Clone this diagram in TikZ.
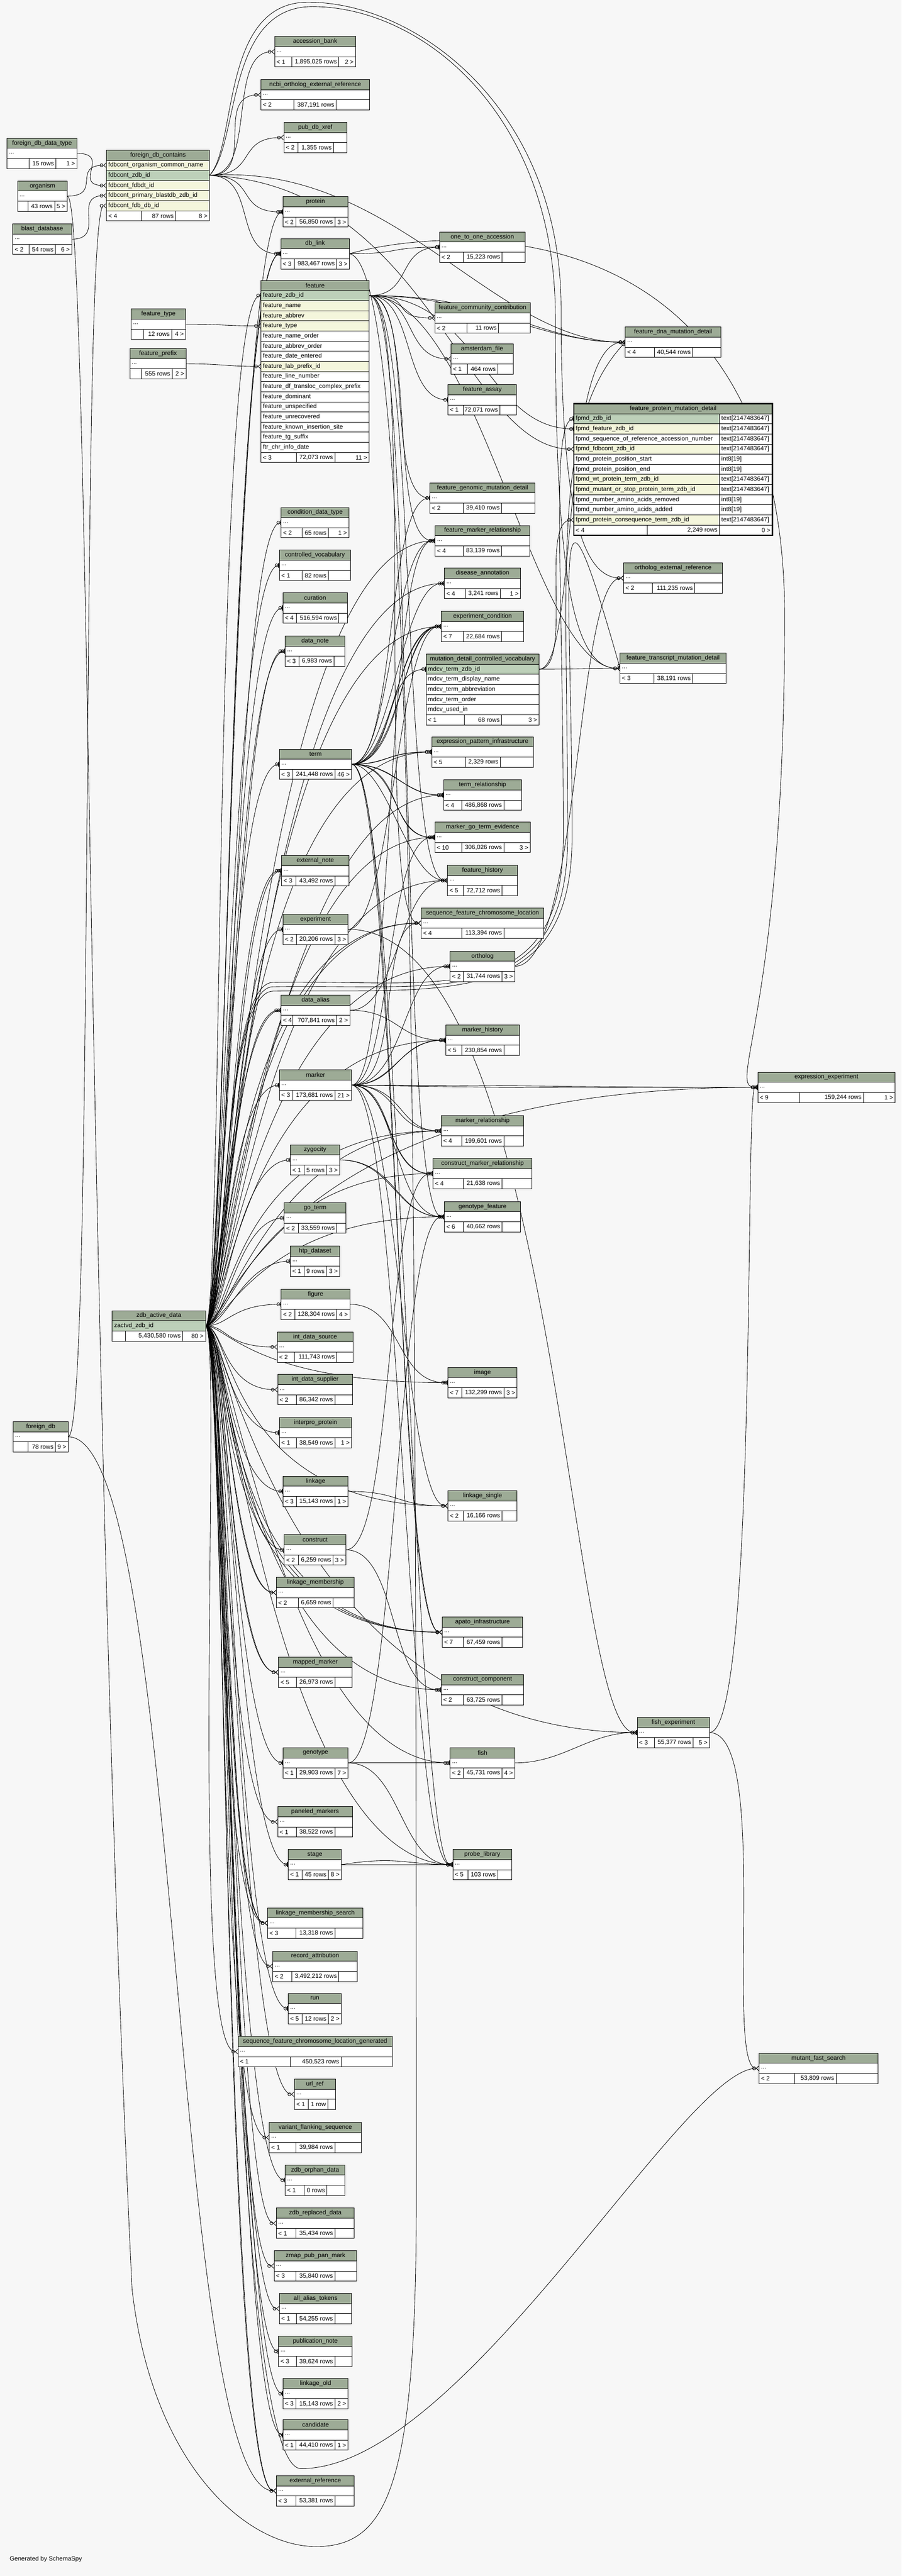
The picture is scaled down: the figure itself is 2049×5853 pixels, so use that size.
\documentclass[tikz,border=0pt]{standalone}
\usepackage{fontspec}
\setmainfont{Liberation Sans}
\usetikzlibrary{arrows.meta}

\definecolor{bgc}{RGB}{247,247,247}
\definecolor{hdrc}{RGB}{157,171,150}
\definecolor{pkc}{RGB}{189,208,185}
\definecolor{fkc}{RGB}{244,246,220}

\newcommand{\tfont}{\fontsize{7pt}{8pt}\selectfont}

\pgfdeclarelayer{bg}
\pgfsetlayers{bg,main}

\tikzset{
  cell/.style={draw=black,line width=0.5pt},
  hdr/.style={cell,fill=hdrc,anchor=north west,minimum height=11.5pt,inner sep=0pt,outer sep=0pt},
  rowc/.style={cell,anchor=north west,minimum height=11.5pt,inner sep=0pt,outer sep=0pt},
  txt/.style={anchor=west,inner sep=2pt},
  txtr/.style={anchor=east,inner sep=2pt},
  fk/.style={draw=black,line width=0.5pt},
  fkmany/.style={fk,-{Circle[open,length=4pt,width=4pt]Straight Barb[reversed,length=3pt,width=5.5pt]}},
  fkone/.style={fk,-{Circle[open,length=4pt,width=4pt]Bar[width=5.5pt,line width=1.2pt]}}
}

% footer row: x,y / width / split1 / split2 / left / middle / right
\newcommand{\tfoot}[7]{%
  \begin{scope}[shift={(#1)}]
    \draw[cell,fill=white] (0,0) rectangle (#2,23);
    \draw[cell] (#3,0) -- (#3,23) (#4,0) -- (#4,23);
    \node[txt] at (0,11.5) {#5};
    \node[txtr] at (#4,11.5) {#6};
    \node[txtr] at (#2,11.5) {#7};
  \end{scope}}

% collapsed table: id / x,y / width / title / left / middle / right / split1 / split2
\newcommand{\tbl}[9]{%
  \begin{scope}[shift={(#2)}]
    \node[hdr,minimum width=#3*0.5pt] (#1-h) at (0,0) {#4};
    \node[rowc,fill=white,minimum width=#3*0.5pt] (#1) at (0,23) {};
    \node[txt] at (#1.west) {...};
    \tfoot{0,46}{#3}{#8}{#9}{#5}{#6}{#7}
  \end{scope}}

\begin{document}
\begin{tikzpicture}[x=0.5pt,y=-0.5pt,font=\tfont]
\useasboundingbox (0,0) rectangle (2049,5853);

% left side
\tbl{fddt}{16,314}{159}{foreign\_db\_data\_type}{}{15 rows}{1 >}{50}{111}
\tbl{org}{40,411}{113}{organism}{}{43 rows}{5 >}{24}{84}
\tbl{blastdb}{29,509}{134}{blast\_database}{< 2}{54 rows}{6 >}{37}{97}
\tbl{ftype}{298,702}{124}{feature\_type}{}{12 rows}{4 >}{28}{92}
\tbl{fprefix}{295,792}{128}{feature\_prefix}{}{555 rows}{2 >}{26}{96}
\tbl{fdb}{30,3230}{125}{foreign\_db}{}{78 rows}{9 >}{34}{96}

\begin{scope}[shift={(242,341)}]
  \node[hdr,minimum width=117pt] (fdbc-h) at (0,0) {foreign\_db\_contains};
  \foreach \rt/\rc [count=\i] in {fdbcont\_organism\_common\_name/fkc, fdbcont\_zdb\_id/pkc,
      fdbcont\_fdbdt\_id/fkc, fdbcont\_primary\_blastdb\_zdb\_id/fkc, fdbcont\_fdb\_db\_id/fkc}{
    \node[rowc,fill=\rc,minimum width=117pt] (fdbc-\i) at (0,23*\i) {};
    \node[txt] at (fdbc-\i.west) {\rt};
  }
  \tfoot{0,138}{234}{79}{157}{< 4}{87 rows}{8 >}
\end{scope}

\begin{scope}[shift={(255,2978)}]
  \node[hdr,minimum width=106pt] (zad-h) at (0,0) {zdb\_active\_data};
  \node[rowc,fill=pkc,minimum width=106pt] (zad) at (0,23) {};
  \node[txt] at (zad.west) {zactvd\_zdb\_id};
  \tfoot{0,46}{212}{30}{160}{}{5,430,580 rows}{80 >}
\end{scope}

% middle column
\tbl{accbank}{624,83}{184}{accession\_bank}{< 1}{1,895,025 rows}{2 >}{39}{146}
\tbl{ncbioer}{593,181}{247}{ncbi\_ortholog\_external\_reference}{< 2}{387,191 rows}{}{75}{171}
\tbl{pubxref}{645,278}{143}{pub\_db\_xref}{< 2}{1,355 rows}{}{32}{113}
\tbl{protein}{643,447}{148}{protein}{< 2}{56,850 rows}{3 >}{30}{118}
\tbl{dblink}{638,542}{156}{db\_link}{< 3}{983,467 rows}{3 >}{31}{127}

\begin{scope}[shift={(593,637)}]
  \node[hdr,minimum width=123pt] (feature-h) at (0,0) {feature};
  \foreach \rt/\rc [count=\i] in {feature\_zdb\_id/pkc, feature\_name/fkc, feature\_abbrev/fkc,
      feature\_type/fkc, feature\_name\_order/white, feature\_abbrev\_order/white,
      feature\_date\_entered/white, feature\_lab\_prefix\_id/fkc, feature\_line\_number/white,
      feature\_df\_transloc\_complex\_prefix/white, feature\_dominant/white,
      feature\_unspecified/white, feature\_unrecovered/white, feature\_known\_insertion\_site/white,
      feature\_tg\_suffix/white, ftr\_chr\_info\_date/white}{
    \node[rowc,fill=\rc,minimum width=123pt] (feature-\i) at (0,23*\i) {};
    \node[txt] at (feature-\i.west) {\rt};
  }
  \tfoot{0,391}{246}{81}{168}{< 3}{72,073 rows}{11 >}
\end{scope}

\tbl{cdt}{639,1153}{154}{condition\_data\_type}{< 2}{65 rows}{1 >}{47}{107}
\tbl{cvocab}{635,1250}{161}{controlled\_vocabulary}{< 1}{82 rows}{}{51}{111}
\tbl{curation}{643,1347}{146}{curation}{< 4}{516,594 rows}{}{31}{127}
\tbl{datanote}{648,1445}{136}{data\_note}{< 3}{6,983 rows}{}{31}{111}
\tbl{term}{635,1702}{164}{term}{< 3}{241,448 rows}{46 >}{30}{126}
\tbl{extnote}{640,1944}{153}{external\_note}{< 3}{43,492 rows}{}{33}{121}
\tbl{experiment}{643,2077}{148}{experiment}{< 2}{20,206 rows}{3 >}{31}{118}
\tbl{dalias}{639,2261}{156}{data\_alias}{< 4}{707,841 rows}{2 >}{26}{126}
\tbl{marker}{635,2431}{164}{marker}{< 3}{173,681 rows}{21 >}{30}{126}
\tbl{zygocity}{660,2601}{112}{zygocity}{< 1}{5 rows}{3 >}{31}{82}
\tbl{goterm}{646,2733}{140}{go\_term}{< 2}{33,559 rows}{}{32}{119}
\tbl{htpds}{660,2831}{112}{htp\_dataset}{< 1}{9 rows}{3 >}{31}{82}
\tbl{figure}{639,2929}{156}{figure}{< 2}{128,304 rows}{4 >}{31}{126}
\tbl{ids}{630,3026}{172}{int\_data\_source}{< 2}{111,743 rows}{}{39}{135}
\tbl{idsup}{631,3123}{170}{int\_data\_supplier}{< 2}{86,342 rows}{}{43}{130}
\tbl{ipprot}{635,3221}{164}{interpro\_protein}{< 1}{38,549 rows}{1 >}{39}{126}
\tbl{linkage}{643,3354}{148}{linkage}{< 3}{15,143 rows}{1 >}{31}{118}
\tbl{construct}{646,3487}{140}{construct}{< 2}{6,259 rows}{3 >}{32}{111}
\tbl{lmem}{628,3584}{177}{linkage\_membership}{< 2}{6,659 rows}{}{50}{129}
\tbl{mmarker}{633,3765}{167}{mapped\_marker}{< 5}{26,973 rows}{}{41}{128}
\tbl{genotype}{643,3971}{148}{genotype}{< 1}{29,903 rows}{7 >}{31}{118}
\tbl{pmarkers}{631,4105}{170}{paneled\_markers}{< 1}{38,522 rows}{}{43}{130}
\tbl{stage}{655,4202}{121}{stage}{< 1}{45 rows}{8 >}{31}{91}
\tbl{lms}{608,4335}{217}{linkage\_membership\_search}{< 3}{13,318 rows}{}{65}{153}
\tbl{recattr}{620,4433}{192}{record\_attribution}{< 2}{3,492,212 rows}{}{43}{150}
\tbl{run}{655,4529}{121}{run}{< 5}{12 rows}{2 >}{31}{91}
\tbl{sfclgen}{541,4627}{350}{sequence\_feature\_chromosome\_location\_generated}{< 1}{450,523 rows}{}{118}{234}
\tbl{urlref}{669,4724}{93}{url\_ref}{< 1}{1 row}{}{31}{76}
\tbl{vfs}{612,4822}{209}{variant\_flanking\_sequence}{< 1}{39,984 rows}{}{61}{149}
\tbl{orphan}{648,4919}{136}{zdb\_orphan\_data}{< 1}{0 rows}{}{43}{95}
\tbl{replaced}{628,5017}{177}{zdb\_replaced\_data}{< 1}{35,434 rows}{}{45}{133}
\tbl{zmap}{623,5114}{188}{zmap\_pub\_pan\_mark}{< 3}{35,840 rows}{}{50}{138}
\tbl{aliastok}{635,5211}{164}{all\_alias\_tokens}{< 1}{54,255 rows}{}{39}{126}
\tbl{pubnote}{633,5308}{167}{publication\_note}{< 3}{39,624 rows}{}{41}{128}
\tbl{linkold}{643,5404}{148}{linkage\_old}{< 3}{15,143 rows}{2 >}{30}{118}
\tbl{candidate}{643,5498}{148}{candidate}{< 1}{44,410 rows}{1 >}{30}{118}
\tbl{extref}{628,5625}{177}{external\_reference}{< 3}{53,381 rows}{}{45}{133}

% second column
\tbl{o2o}{999,527}{194}{one\_to\_one\_accession}{< 2}{15,223 rows}{}{54}{142}
\tbl{fcc}{988,688}{217}{feature\_community\_contribution}{< 2}{11 rows}{}{73}{145}
\tbl{amsfile}{1025,781}{141}{amsterdam\_file}{< 1}{464 rows}{}{37}{106}
\tbl{fassay}{1018,874}{156}{feature\_assay}{< 1}{72,071 rows}{}{35}{118}
\tbl{fgmd}{977,1097}{239}{feature\_genomic\_mutation\_detail}{< 2}{39,410 rows}{}{76}{163}
\tbl{fmr}{989,1194}{215}{feature\_marker\_relationship}{< 4}{83,139 rows}{}{64}{151}
\tbl{disann}{1010,1291}{173}{disease\_annotation}{< 4}{3,241 rows}{1 >}{47}{127}
\tbl{expcond}{1003,1389}{187}{experiment\_condition}{< 7}{22,684 rows}{}{50}{137}

\begin{scope}[shift={(968,1486)}]
  \node[hdr,minimum width=128.5pt] (mdcv-h) at (0,0) {mutation\_detail\_controlled\_vocabulary};
  \foreach \rt/\rc [count=\i] in {mdcv\_term\_zdb\_id/pkc, mdcv\_term\_display\_name/white,
      mdcv\_term\_abbreviation/white, mdcv\_term\_order/white, mdcv\_used\_in/white}{
    \node[rowc,fill=\rc,minimum width=128.5pt] (mdcv-\i) at (0,23*\i) {};
    \node[txt] at (mdcv-\i.west) {\rt};
  }
  \tfoot{0,138}{257}{87}{172}{< 1}{68 rows}{3 >}
\end{scope}

\tbl{epi}{981,1674}{231}{expression\_pattern\_infrastructure}{< 5}{2,329 rows}{}{76}{156}
\tbl{termrel}{1008,1772}{177}{term\_relationship}{< 4}{486,868 rows}{}{41}{137}
\tbl{mgte}{988,1868}{217}{marker\_go\_term\_evidence}{< 10}{306,026 rows}{3 >}{61}{157}
\tbl{fhist}{1017,1966}{159}{feature\_history}{< 5}{72,712 rows}{}{36}{124}
\tbl{sfcl}{957,2063}{279}{sequence\_feature\_chromosome\_location}{< 4}{113,394 rows}{}{92}{188}
\tbl{ortholog}{1023,2161}{147}{ortholog}{< 2}{31,744 rows}{3 >}{30}{118}
\tbl{mhist}{1013,2329}{167}{marker\_history}{< 5}{230,854 rows}{}{36}{132}
\tbl{mrel}{1003,2535}{187}{marker\_relationship}{< 4}{199,601 rows}{}{46}{142}
\tbl{cmr}{984,2632}{225}{construct\_marker\_relationship}{< 4}{21,638 rows}{}{69}{157}
\tbl{genofeat}{1010,2730}{173}{genotype\_feature}{< 6}{40,662 rows}{}{43}{131}
\tbl{image}{1018,3107}{157}{image}{< 7}{132,299 rows}{3 >}{31}{127}
\tbl{lsingle}{1018,3387}{157}{linkage\_single}{< 2}{16,166 rows}{}{35}{123}
\tbl{apato}{1005,3674}{183}{apato\_infrastructure}{< 7}{67,459 rows}{}{48}{136}
\tbl{ccomp}{1003,3805}{187}{construct\_component}{< 2}{63,725 rows}{}{50}{138}
\tbl{fish}{1023,3971}{147}{fish}{< 2}{45,731 rows}{4 >}{30}{118}
\tbl{probelib}{1029,4202}{134}{probe\_library}{< 5}{103 rows}{}{34}{102}

% right side
\tbl{fdmd}{1421,743}{217}{feature\_dna\_mutation\_detail}{< 4}{40,544 rows}{}{66}{153}

\begin{scope}[shift={(1304,917)}]
  \node[hdr,minimum width=225.5pt] (fpmd-h) at (0,0) {feature\_protein\_mutation\_detail};
  \foreach \rt/\rc/\ty [count=\i] in {fpmd\_zdb\_id/pkc/text[2147483647],
      fpmd\_feature\_zdb\_id/fkc/text[2147483647],
      fpmd\_sequence\_of\_reference\_accession\_number/white/text[2147483647],
      fpmd\_fdbcont\_zdb\_id/fkc/text[2147483647],
      fpmd\_protein\_position\_start/white/int8[19],
      fpmd\_protein\_position\_end/white/int8[19],
      fpmd\_wt\_protein\_term\_zdb\_id/fkc/text[2147483647],
      fpmd\_mutant\_or\_stop\_protein\_term\_zdb\_id/fkc/text[2147483647],
      fpmd\_number\_amino\_acids\_removed/white/int8[19],
      fpmd\_number\_amino\_acids\_added/white/int8[19],
      fpmd\_protein\_consequence\_term\_zdb\_id/fkc/text[2147483647]}{
    \node[rowc,fill=\rc,minimum width=165.5pt] (fpmd-\i) at (0,23*\i) {};
    \node[rowc,fill=white,minimum width=60pt] (fpmdt-\i) at (331,23*\i) {};
    \node[txt] at (fpmd-\i.west) {\rt};
    \node[txt] at (fpmdt-\i.west) {\ty};
  }
  \tfoot{0,276}{451}{167}{331}{< 4}{2,249 rows}{0 >}
  \draw[line width=1.5pt] (0,0) rectangle (451,299);
\end{scope}

\tbl{oer}{1417,1279}{225}{ortholog\_external\_reference}{< 2}{111,235 rows}{}{65}{162}
\tbl{ftmd}{1409,1484}{241}{feature\_transcript\_mutation\_detail}{< 3}{38,191 rows}{}{77}{165}
\tbl{xpatex}{1722,2436}{312}{expression\_experiment}{< 9}{159,244 rows}{1 >}{95}{240}
\tbl{fishexp}{1448,3902}{164}{fish\_experiment}{< 3}{55,377 rows}{5 >}{39}{127}
\tbl{mfs}{1725,4665}{270}{mutant\_fast\_search}{< 2}{53,809 rows}{}{80}{175}

\node[anchor=west] (gen) at (15,5815) {Generated by SchemaSpy};

\begin{pgfonlayer}{bg}
\fill[bgc] (0,0) rectangle (2049,5853);

% top left
\draw[fkmany] (fddt.east) .. controls +(80,0) and +(-80,0) .. (fdbc-3.west);
\draw[fkmany] (org.east) .. controls +(80,0) and +(-80,0) .. (fdbc-1.west);
\draw[fkmany] (blastdb.east) .. controls +(80,0) and +(-80,0) .. (fdbc-4.west);
\draw[fkmany] (fdb.east) .. controls +(60,0) and +(-60,0) .. (fdbc-5.west);
\draw[fkmany] (fdb.east) .. controls +(260,0) and +(-240,0) .. (extref.west);
\draw[fkmany] (ftype.east) .. controls +(80,0) and +(-80,0) .. (feature-4.west);
\draw[fkmany] (fprefix.east) .. controls +(80,0) and +(-80,0) .. (feature-8.west);

% foreign_db_contains
\foreach \tb in {accbank,ncbioer,pubxref,protein,dblink}
  \draw[fkmany] (fdbc-2.east) .. controls +(110,0) and +(-110,0) .. (\tb.west);
\draw[fkmany] (fdbc-2.east) .. controls +(420,-30) and +(-300,0) .. (fdmd.west);
\draw[fkmany] (fdbc-2.east) .. controls +(500,20) and +(-250,0) .. (fpmd-4.west);
\draw[fkmany] (fdbc-2.east) .. controls (540,330) and (500,5) .. (700,5)
  .. controls (950,5) and (1275,250) .. (1275,700) .. controls (1275,1150) and (1320,1314) .. (oer.west);
\draw[fkmany] (fdbc-2.east) .. controls (545,330) and (510,15) .. (710,15)
  .. controls (960,15) and (1262,260) .. (1262,720) .. controls (1262,1300) and (1300,1519) .. (ftmd.west);

% zdb_active_data
\foreach \tb [count=\i] in {feature-1,protein,dblink,dblink,cdt,cvocab,curation,datanote,term,extnote,
    experiment,dalias,marker,zygocity,goterm,htpds,figure,ipprot,linkage,construct,genotype,stage,
    run,orphan,pubnote,linkold,candidate}
  \draw[fkone] (zad.east) .. controls +({38+3*mod(\i,6)},0) and +({-105-4*mod(\i,5)},0) .. (\tb.west);
\foreach \tb [count=\i] in {datanote,extnote,dalias,ids,idsup,lmem,lmem,mmarker,mmarker,pmarkers,
    lms,lms,lms,recattr,sfclgen,urlref,vfs,replaced,zmap,aliastok,extref,extref}
  \draw[fkmany] (zad.east) .. controls +({40+3*mod(\i,5)},0) and +({-100-5*mod(\i,6)},0) .. (\tb.west);
\foreach \tb [count=\i] in {fmr,disann,expcond,epi,termrel,mgte,fhist,ortholog,mhist,mrel,cmr,
    genofeat,image,ccomp,fish,probelib}
  \draw[fkone] (zad.east) .. controls +({45+3*mod(\i,4)},0) and +({-380-20*mod(\i,5)},0) .. (\tb.west);
\foreach \tb [count=\i] in {sfcl,sfcl,mrel,lsingle,apato,apato,apato}
  \draw[fkmany] (zad.east) .. controls +({45+4*\i},0) and +({-400-25*\i},0) .. (\tb.west);
\foreach \tb/\d in {fpmd-1/0,fdmd/10,ftmd/20}
  \draw[fkone] (zad.east) .. controls +(50,0) and (500,2235+\d) .. (620,2232+\d)
    .. controls (1000,2225+\d) and (1280+\d,2300) .. (1280+\d,1900)
    .. controls (1280+\d,1300) and (1250,957) .. (\tb.west);
\draw[fkone] (zad.east) .. controls +(50,0) and +(-800,0) .. (fishexp.west);
\draw[fkone] (zad.east) .. controls +(50,0) and +(-1100,0) .. (xpatex.west);
\draw[fkmany] (zad.east) .. controls +(50,0) and (505,5609) .. (684,5609)
  .. controls (1050,5609) and (1550,4700) .. (mfs.west);

% feature
\draw[fkone] (feature-1.east) .. controls +(100,0) and +(-100,0) .. (o2o.west);
\foreach \tb in {fcc,amsfile,fmr,fhist,genofeat,sfcl}
  \draw[fkmany] (feature-1.east) .. controls +(110,0) and +(-110,0) .. (\tb.west);
\foreach \tb in {fassay,fgmd}
  \draw[fkone] (feature-1.east) .. controls +(105,0) and +(-105,0) .. (\tb.west);
\foreach \tb/\d in {fdmd/250,fdmd/300,ftmd/250}
  \draw[fkmany] (feature-1.east) .. controls +(\d,0) and +(-200,0) .. (\tb.west);
\draw[fkone] (feature-1.east) .. controls +(250,0) and +(-200,0) .. (fpmd-2.west);

% term
\draw[fkone] (term.east) .. controls +(100,0) and +(-100,0) .. (mdcv-1.west);
\draw[fkone] (term.east) .. controls +(100,0) and +(-100,0) .. (fgmd.west);
\foreach \tb [count=\i] in {disann,expcond,expcond,expcond,expcond,epi,epi,termrel,termrel,
    mgte,mgte,fhist,fmr,apato,apato,probelib}
  \draw[fkmany] (term.east) .. controls +({80+8*mod(\i,6)},0) and +({-90-6*mod(\i,4)},0) .. (\tb.west);

% marker
\foreach \tb [count=\i] in {mhist,mhist,mrel,mrel,cmr,cmr,genofeat,sfcl,ortholog,mgte,fmr,lsingle,probelib}
  \draw[fkmany] (marker.east) .. controls +({90+8*mod(\i,5)},0) and +({-100-6*mod(\i,4)},0) .. (\tb.west);
\draw[fkmany] (marker.east) .. controls +(400,0) and +(-400,0) .. (xpatex.west);
\draw[fkmany] (marker.east) .. controls +(450,8) and +(-450,0) .. (xpatex.west);

% mutation_detail_controlled_vocabulary
\draw[fkmany] (mdcv-1.east) .. controls +(90,0) and +(-90,0) .. (ftmd.west);
\draw[fkmany] (mdcv-1.east) .. controls +(80,0) and +(-80,0) .. (fpmd-11.west);
\draw[fkmany] (mdcv-1.east) .. controls +(90,0) and +(-150,0) .. (fdmd.west);

% db_link
\draw[fkone] (dblink.east) .. controls +(120,0) and +(-120,0) .. (o2o.west);
\draw[fkmany] (dblink.east) .. controls +(250,-70) and (1783,480) .. (1783,1400)
  .. controls (1783,2300) and (1650,2470) .. (xpatex.west);
\draw[fk] (org.east) .. controls +(50,0) and (195,3000) .. (300,5200)
  .. controls (345,5600) and (560,5786) .. (718,5786)
  .. controls (880,5786) and (946,5650) .. (946,5000)
  .. controls (946,2500) and (940,600) .. (dblink.east);

% the rest
\draw[fkmany] (experiment.east) .. controls +(100,0) and +(-100,0) .. (expcond.west);
\draw[fkmany] (experiment.east) .. controls +(480,0) and +(-160,0) .. (fishexp.west);
\draw[fkmany] (dalias.east) .. controls +(110,0) and +(-110,0) .. (mhist.west);
\draw[fkmany] (dalias.east) .. controls +(110,0) and +(-110,0) .. (fhist.west);
\foreach \d in {0,8}
  \draw[fkmany] (zygocity.east) .. controls +(120+\d,0) and +(-110,0) .. (genofeat.west);
\draw[fkmany] (figure.east) .. controls +(120,0) and +(-120,0) .. (image.west);
\draw[fkmany] (linkage.east) .. controls +(120,0) and +(-120,0) .. (lsingle.west);
\draw[fkmany] (construct.east) .. controls +(110,0) and +(-110,0) .. (cmr.west);
\draw[fkmany] (construct.east) .. controls +(120,0) and +(-120,0) .. (ccomp.west);
\draw[fkmany] (genotype.east) .. controls +(110,0) and +(-110,0) .. (genofeat.west);
\draw[fkmany] (genotype.east) -- (fish.west);
\draw[fkmany] (genotype.east) .. controls +(120,0) and +(-120,0) .. (probelib.west);
\draw[fkmany] (stage.east) -- (probelib.west);
\draw[fkmany] (stage.east) .. controls +(130,-20) and +(-110,0) .. (probelib.west);
\draw[fkmany] (fish.east) .. controls +(110,0) and +(-110,0) .. (fishexp.west);
\draw[fkmany] (fishexp.east) .. controls +(110,0) and +(-30,0) .. (xpatex.west);
\draw[fkmany] (fishexp.east) .. controls +(140,0) and +(-80,0) .. (mfs.west);
\draw[fkmany] (ortholog.east) .. controls +(150,0) and +(-110,0) .. (oer.west);
\end{pgfonlayer}
\end{tikzpicture}
\end{document}
